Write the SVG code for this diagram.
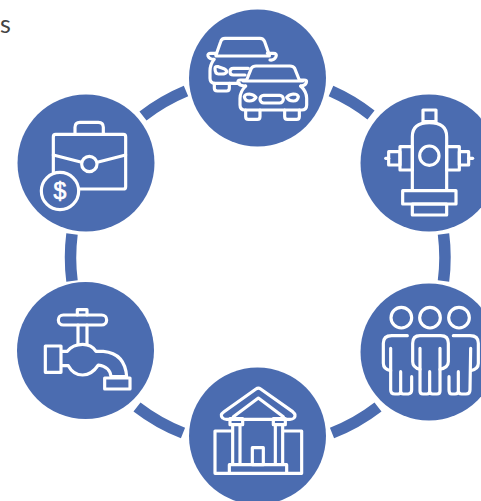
<svg xmlns="http://www.w3.org/2000/svg" width="481" height="501" viewBox="0 0 481 501">
<style>
.bg{fill:#4b6cb0}
.i{fill:none;stroke:#fff;stroke-width:9.5;stroke-linejoin:round;stroke-linecap:round}
.c{fill:none;stroke:#4b6cb0;stroke-width:11.5}
.t{font-family:"Lato","Liberation Sans",sans-serif;font-size:25px;fill:#444}
</style>
<rect width="481" height="501" fill="#fff"/>
<text class="t" x="0" y="33">s</text>
<g id="connectors">
<path class="c" d="M143,116 A186,186 0 0 1 186,91"/>
<path class="c" d="M331,91 A186,186 0 0 1 371,115"/>
<path class="c" d="M443.5,234 A186,186 0 0 1 443.5,281"/>
<path class="c" d="M378,407 A186,186 0 0 1 332,433"/>
<path class="c" d="M183,433 A186,186 0 0 1 137,407"/>
<path class="c" d="M72,281 A186,186 0 0 1 72,234"/>
</g>
<g id="node-traffic">
<circle class="bg" cx="257.5" cy="78" r="68.5"/>
<g transform="translate(180,0) scale(.33333)" class="i">
<path d="M108,165 L122,125 Q125,115 135,115 L240,115 Q250,115 254,125 L268,165"/>
<path d="M108,168 L268,168"/>
<path d="M110,160 L92,160 Q82,160 84,168 Q88,178 102,178"/>
<path d="M262,160 L280,160 Q292,160 288,170 Q282,182 270,180"/>
<path d="M102,178 Q90,195 90,212 L90,235 Q90,250 105,250 L178,250"/>
<path d="M105,205 Q105,198 115,200 L132,206 Q140,210 140,216 Q138,222 125,222 L115,222 Q105,222 105,205 Z"/>
<path d="M205,205 L160,205 Q150,205 150,215 Q150,225 160,225 L195,225"/>
<path d="M103,250 L103,265 Q103,273 112,273 L140,273 Q148,273 148,265 L148,250"/>
<path d="M200,240 L214,205 Q218,198 228,198 L330,198 Q340,198 344,205 L358,240"/>
<path d="M190,243 L368,243"/>
<path d="M198,240 L182,240 Q172,240 174,248 Q178,258 197,258"/>
<path d="M360,240 L372,240 Q382,240 379,248 Q375,258 362,258"/>
<path d="M197,258 Q180,275 180,295 L180,315 Q180,330 195,330 L365,330 Q380,330 380,315 L380,295 Q380,275 362,258"/>
<path d="M193,290 Q195,282 208,282 Q222,284 228,292 Q222,302 208,303 Q195,303 193,290 Z"/>
<path d="M355,290 Q353,282 340,282 Q326,284 320,292 Q326,302 340,303 Q353,303 355,290 Z"/>
<rect x="240" y="286" width="70" height="23" rx="11"/>
<path d="M197,330 L197,350 Q197,358 205,358 L232,358 Q240,358 240,350 L240,330"/>
<path d="M314,330 L314,350 Q314,358 322,358 L350,358 Q358,358 358,350 L358,330"/>
</g>
</g>
<g id="node-hydrant">
<circle class="bg" cx="429" cy="163" r="68.5"/>
<g transform="translate(350,90) scale(.33333)" class="i">
<rect x="219" y="60" width="39" height="35"/>
<path d="M187,300 L187,140 Q187,98 238,98 Q290,98 290,140 L290,300"/>
<circle cx="238" cy="197" r="29"/>
<rect x="150" y="170" width="37" height="70"/>
<rect x="116" y="185" width="34" height="40"/>
<path d="M116,205 L107,205"/>
<rect x="290" y="170" width="38" height="70"/>
<rect x="328" y="185" width="28" height="40"/>
<path d="M356,205 L368,205"/>
<rect x="158" y="302" width="160" height="40"/>
<rect x="187" y="342" width="103" height="33"/>
</g>
</g>
<g id="node-people">
<circle class="bg" cx="429" cy="352" r="68.5"/>
<g transform="translate(350,280) scale(.33333)" class="i">
<circle cx="154" cy="113" r="31"/>
<circle cx="240" cy="113" r="31"/>
<circle cx="327" cy="113" r="31"/>
<path d="M210,205 L210,333 Q210,342 219,342 L231,342 Q239,342 239,333 L239,275 L239,333 Q239,342 248,342 L261,342 Q270,342 270,333 L270,205"/>
<path d="M210,268 Q188,262 188,245 L188,190 Q188,167 210,167 L272,167 Q295,167 295,190 L295,245 Q295,262 270,268"/>
<path d="M172,167 L125,167 Q100,167 100,190 L100,250 Q100,268 122,272"/>
<path d="M122,205 L122,330 Q122,342 135,342 L145,342 Q152,342 152,333 L152,275 L152,333 Q152,342 160,342 L175,342 Q185,340 185,330 L185,290"/>
<path d="M310,167 L360,167 Q385,167 385,190 L385,250 Q385,268 362,272"/>
<path d="M362,205 L360,330 Q360,342 348,342 L335,342 Q325,342 325,333 L325,275 L325,333 Q325,342 315,342 L305,342 Q297,342 297,330 L297,290"/>
</g>
</g>
<g id="node-bank">
<circle class="bg" cx="257.5" cy="436" r="68.5"/>
<g transform="translate(180,360) scale(.33333)" class="i">
<path d="M228,87 Q235,82 242,87 L338,155 Q350,165 342,174 Q338,178 330,178 L140,178 Q132,178 128,174 Q118,165 132,155 Z"/>
<path d="M160,170 L235,114 L310,170"/>
<rect x="150" y="176" width="38" height="18"/>
<rect x="280" y="176" width="36" height="18"/>
<path d="M158,194 L158,313 M180,194 L180,313 M286,194 L286,313 M308,194 L308,313"/>
<path d="M155,213 L105,213 L105,340 L150,340"/>
<path d="M310,213 L365,213 L365,340 L320,340"/>
<rect x="148" y="314" width="172" height="26"/>
<rect x="217" y="263" width="33" height="51"/>
</g>
</g>
<g id="node-faucet">
<circle class="bg" cx="85.5" cy="350.5" r="68.5"/>
<g transform="translate(10,275) scale(.33333)" class="i">
<rect x="145" y="120" width="145" height="30" rx="15"/>
<path d="M202,120 L202,104 L231,104 L231,120"/>
<path d="M204,150 L204,208 M231,150 L231,208"/>
<path d="M155,229 L172,229 Q188,208 218,208 Q245,208 258,229 L280,229 Q345,235 350,305 L303,305 Q300,275 265,270 Q245,300 218,300 Q190,300 175,272 L155,272"/>
<rect x="106" y="213" width="47" height="79"/>
<rect x="284" y="309" width="76" height="33"/>
</g>
</g>
<g id="node-briefcase">
<circle class="bg" cx="86" cy="163" r="68.5"/>
<g transform="translate(10,90) scale(.33333)" class="i">
<path d="M130,245 L130,140 Q130,133 137,133 L340,133 Q347,133 347,140 L347,290 Q347,297 340,297 L208,297"/>
<path d="M195,133 L195,112 Q195,97 210,97 L265,97 Q280,97 280,112 L280,133"/>
<path d="M130,195 L215,217 M262,217 L347,195"/>
<circle cx="238" cy="222" r="23"/>
<circle cx="150" cy="303" r="56"/>
</g>
<text x="60" y="198.500" text-anchor="middle" font-family="'Liberation Sans',sans-serif" font-size="23" fill="#fff" stroke="#fff" stroke-width=".7">$</text>
</g>
</svg>
